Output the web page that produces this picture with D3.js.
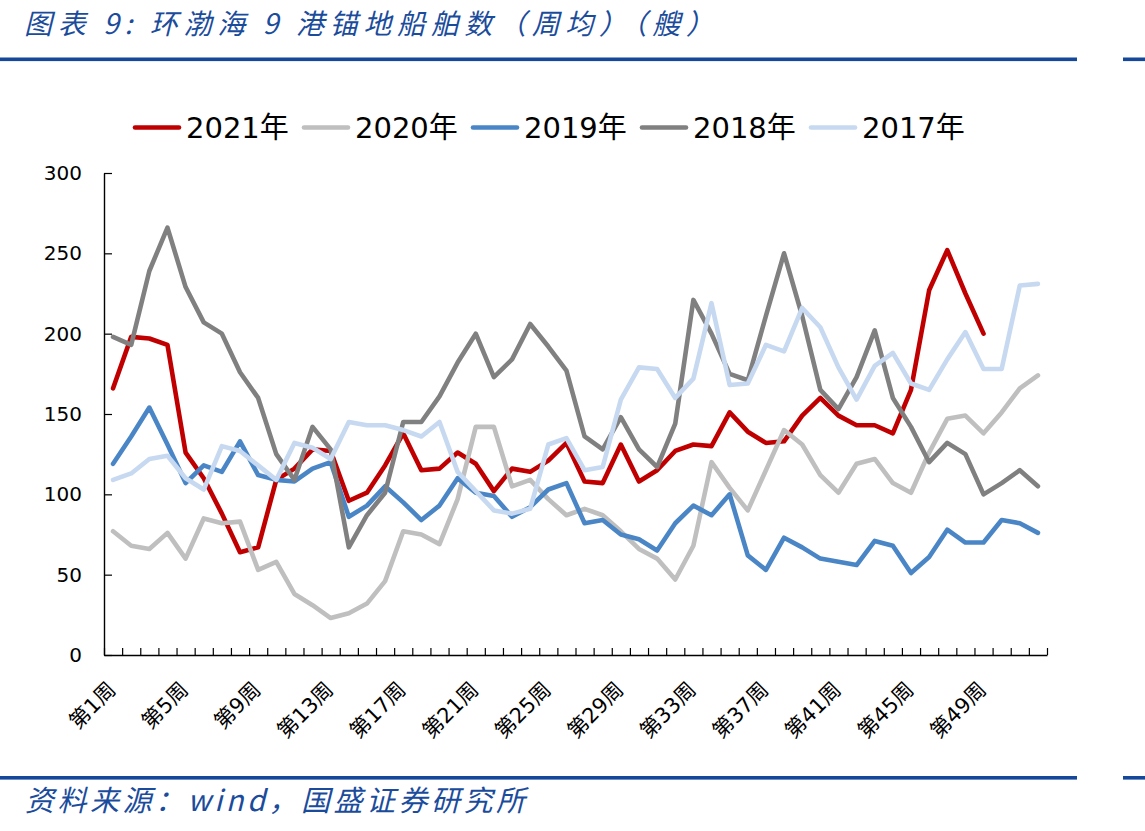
<!DOCTYPE html>
<html>
<head>
<meta charset="utf-8">
<script src="https://cdn.jsdelivr.net/npm/d3@7"></script>
<style>
  html, body { margin: 0; padding: 0; background: #fff; }
  svg { display: block; }
</style>
</head>
<body>
<svg id="chart" width="1145" height="831"></svg>
<script>
// ---------- data ----------
const weeks = d3.range(1, 53);
const xTickWeeks = [1, 5, 9, 13, 17, 21, 25, 29, 33, 37, 41, 45, 49];
const yTicks = [0, 50, 100, 150, 200, 250, 300];

const seriesNames = ["2021年", "2020年", "2019年", "2018年", "2017年"];
const seriesColors = ["#C00000", "#BFBFBF", "#4A86C6", "#808080", "#C6D9F0"];

const v2021 = [166, 198, 197, 193, 126, 110, 88, 64, 67, 109, 116, 128, 127, 96, 101, 118, 138, 115, 116, 126,
  119, 102, 116, 114, 121, 132, 108, 107, 131, 108, 115, 127, 131, 130, 151, 139, 132, 133, 149, 160,
  149, 143, 143, 138, 165, 227, 252, 225, 200];
const v2020 = [77, 68, 66, 76, 60, 85, 82, 83, 53, 58, 38, 31, 23, 26, 32, 46, 77, 75, 69, 97,
  142, 142, 105, 109, 97, 87, 91, 87, 77, 66, 60, 47, 68, 120, 104, 90, 115, 140, 131, 112,
  101, 119, 122, 107, 101, 126, 147, 149, 138, 151, 166, 174];
const v2019 = [119, 136, 154, 131, 107, 118, 114, 133, 112, 109, 108, 116, 120, 86, 93, 105, 95, 84, 93, 110,
  101, 99, 86, 92, 103, 107, 82, 84, 75, 72, 65, 82, 93, 87, 100, 62, 53, 73, 67, 60,
  58, 56, 71, 68, 51, 61, 78, 70, 70, 84, 82, 76];
const v2018 = [198, 193, 239, 266, 229, 207, 200, 176, 160, 125, 109, 142, 128, 67, 87, 101, 145, 145, 161, 182,
  200, 173, 184, 206, 192, 177, 136, 128, 148, 128, 117, 144, 221, 200, 175, 171, 211, 250, 211, 165,
  153, 173, 202, 160, 142, 120, 132, 125, 100, 107, 115, 105];
const v2017 = [109, 113, 122, 124, 110, 103, 130, 127, 118, 109, 132, 129, 122, 145, 143, 143, 140, 136, 145, 114,
  102, 90, 88, 91, 131, 135, 115, 117, 159, 179, 178, 160, 172, 219, 168, 169, 193, 189, 216, 204,
  179, 159, 180, 188, 169, 165, 184, 201, 178, 178, 230, 231];
const seriesValues = [v2021, v2020, v2019, v2018, v2017];

const titleText = "图表 9:  环渤海 9 港锚地船舶数（周均）（艘）";
const sourceText = "资料来源：wind，国盛证券研究所";

// ---------- layout ----------
const svg = d3.select("#chart");
const W = 1145;
const plot = { left: 104, right: 1047, top: 173, bottom: 655 };
const blue = "#1B4C9C";
const latin = "'DejaVu Sans', 'Noto Sans CJK SC', sans-serif";

// title
svg.append("text")
  .attr("x", 24).attr("y", 34)
  .attr("font-family", "'Noto Sans CJK SC', sans-serif")
  .attr("font-style", "italic")
  .attr("font-size", 28)
  .attr("fill", blue)
  .attr("textLength", 690)
  .attr("lengthAdjust", "spacing")
  .text(titleText);

// rules
[57.5, 776].forEach(yy => {
  svg.append("rect").attr("x", 0).attr("y", yy).attr("width", 1077).attr("height", 3.6).attr("fill", "#15479A");
  svg.append("rect").attr("x", 1123).attr("y", yy).attr("width", W - 1123).attr("height", 3.6).attr("fill", "#15479A");
});

// source
svg.append("text")
  .attr("x", 25).attr("y", 811)
  .attr("font-family", "'Noto Sans CJK SC', sans-serif")
  .attr("font-style", "italic")
  .attr("font-size", 29)
  .attr("fill", blue)
  .attr("textLength", 500)
  .attr("lengthAdjust", "spacing")
  .text(sourceText);

// scales
const xBand = d3.scaleBand().domain(weeks).range([plot.left, plot.right]).padding(0);
const xCenter = w => xBand(w) + xBand.bandwidth() / 2;
const xBound = d3.scaleLinear().domain([0, weeks.length]).range([plot.left, plot.right]);
const y = d3.scaleLinear().domain([0, 300]).range([plot.bottom, plot.top]);

// y axis
const yAxis = svg.append("g")
  .attr("transform", `translate(${plot.left},0)`)
  .call(d3.axisLeft(y).tickValues(yTicks).tickSizeInner(-8).tickSizeOuter(0).tickPadding(22));
yAxis.select(".domain").attr("stroke", "#000").attr("stroke-width", 1.4);
yAxis.selectAll(".tick line").attr("stroke", "#000").attr("stroke-width", 1.2);
yAxis.selectAll(".tick text").attr("font-family", latin).attr("font-size", 20).attr("fill", "#000");

// x axis (ticks at category boundaries)
const xAxis = svg.append("g")
  .attr("transform", `translate(0,${plot.bottom})`)
  .call(d3.axisBottom(xBound).tickValues(d3.range(0, weeks.length + 1)).tickSizeInner(-7).tickSizeOuter(0).tickFormat(""));
xAxis.select(".domain").attr("stroke", "#000").attr("stroke-width", 1.4);
xAxis.selectAll(".tick line").attr("stroke", "#000").attr("stroke-width", 1.2);

// x labels
svg.append("g").selectAll("text")
  .data(xTickWeeks)
  .join("text")
  .attr("transform", d => `translate(${xCenter(d) + 4},${plot.bottom + 36}) rotate(-45)`)
  .attr("text-anchor", "end")
  .attr("font-family", latin)
  .attr("font-size", 21)
  .attr("fill", "#000")
  .text(d => `第${d}周`);

// lines
const line = d3.line()
  .x((d, i) => xCenter(weeks[i]))
  .y(d => y(d));

svg.append("g").selectAll("path")
  .data(seriesValues)
  .join("path")
  .attr("d", d => line(d))
  .attr("fill", "none")
  .attr("stroke", (d, i) => seriesColors[i])
  .attr("stroke-width", 4.6)
  .attr("stroke-linejoin", "round")
  .attr("stroke-linecap", "round");

// legend
const legend = svg.append("g").attr("transform", "translate(133,127.5)");
const item = legend.selectAll("g")
  .data(seriesNames)
  .join("g")
  .attr("transform", (d, i) => `translate(${i * 169},0)`);
item.append("line")
  .attr("x1", 2).attr("x2", 46).attr("y1", 0).attr("y2", 0)
  .attr("stroke", (d, i) => seriesColors[i])
  .attr("stroke-width", 4.6)
  .attr("stroke-linecap", "round");
item.append("text")
  .attr("x", 53).attr("y", 10.5)
  .attr("font-family", latin)
  .attr("font-size", 29)
  .attr("fill", "#000")
  .text(d => d);
</script>
</body>
</html>
